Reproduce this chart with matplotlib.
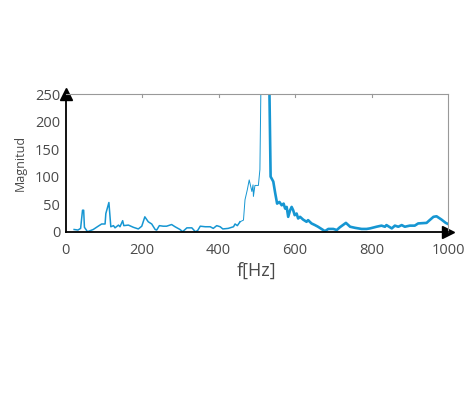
import matplotlib.pyplot as plt

# espectro: tramo bajo, subida al pico, caida tras el pico
freq_low = [22, 32, 39, 44, 47, 49, 57, 72, 85, 94, 103, 105, 113, 118, 125, 129, 138, 142,
            149, 152, 164, 177, 190, 199, 207, 216, 225, 234, 238, 245, 255, 264, 277, 286,
            299, 306, 317, 330, 339, 345, 352, 365, 378, 386, 395, 404, 411, 425, 439, 443,
            449, 456]
mag_low = [4, 3, 6, 39, 39, 8, 0, 4, 10, 14, 14, 33, 53, 9, 11, 7, 12, 9,
           20, 11, 12, 8, 5, 10, 27, 18, 14, 4, 3, 11, 10, 10, 13, 9,
           4, 0, 7, 7, 0, 2, 10, 9, 9, 6, 11, 9, 5, 6, 9, 14,
           11, 18]

freq_rise = [456, 465, 469, 475, 480, 484, 487, 490, 491, 495, 504, 508, 513, 530, 533]
mag_rise = [18, 21, 58, 76, 94, 82, 73, 85, 64, 84, 84, 113, 400, 400, 250]

freq_fall = [533, 536, 543, 548, 553, 559, 565, 570, 574, 578, 582, 587, 591, 595, 599,
             604, 608, 613, 621, 630, 634, 643, 652, 660, 669, 678, 687, 700, 709, 717,
             733, 744, 757, 774, 787, 796, 813, 826, 835, 839, 853, 861, 870, 879, 887,
             900, 913, 922, 944, 952, 962, 970, 983, 994, 1000]
mag_fall = [250, 100, 91, 70, 51, 54, 48, 51, 42, 45, 27, 39, 45, 39, 30,
            33, 24, 27, 22, 18, 21, 15, 12, 9, 5, 1, 5, 5, 3, 8,
            16, 9, 7, 5, 5, 6, 9, 11, 9, 12, 6, 11, 9, 12, 9,
            11, 11, 15, 16, 21, 27, 28, 22, 16, 14]

x_ticks = [0, 200, 400, 600, 800, 1000]
y_ticks = [0, 50, 100, 150, 200, 250]

color = '#1696d2'
text_color = '#4a4a4a'

plt.rcParams['font.family'] = ['Open Sans', 'DejaVu Sans']

fig = plt.figure(figsize=(4.77, 3.93), dpi=100)
ax = fig.add_axes([65.7 / 477, 1 - 231.7 / 393, (448 - 65.7) / 477, (231.7 - 94) / 393])

ax.plot(freq_low, mag_low, color=color, lw=1.1)
ax.plot(freq_rise, mag_rise, color=color, lw=0.7)
ax.plot(freq_fall, mag_fall, color=color, lw=1.9)

ax.set_xlim(0, 1000)
ax.set_ylim(0, 250)
ax.set_xticks(x_ticks)
ax.set_yticks(y_ticks)
ax.tick_params(axis='both', length=0, labelsize=10.5, colors=text_color)
ax.tick_params(axis='x', pad=8)
ax.tick_params(axis='y', pad=4)

# marcas en el borde superior
for xt in x_ticks[1:-1]:
    ax.plot([xt, xt], [250, 244], color='#999999', lw=0.8, clip_on=False)

for side in ['top', 'right']:
    ax.spines[side].set_color('#999999')
    ax.spines[side].set_linewidth(0.8)
for side in ['left', 'bottom']:
    ax.spines[side].set_color('black')
    ax.spines[side].set_linewidth(1.3)

# flechas de los ejes
ax.plot([0], [1], marker='^', color='black', markersize=8, clip_on=False,
        transform=ax.transAxes)
ax.plot([1], [0], marker='>', color='black', markersize=8, clip_on=False,
        transform=ax.transAxes)

ax.set_xlabel('f[Hz]', fontsize=13, color=text_color, labelpad=3)
ax.set_ylabel('Magnitud', fontsize=9, color=text_color, labelpad=6)

fig.savefig('out.png', dpi=100)
